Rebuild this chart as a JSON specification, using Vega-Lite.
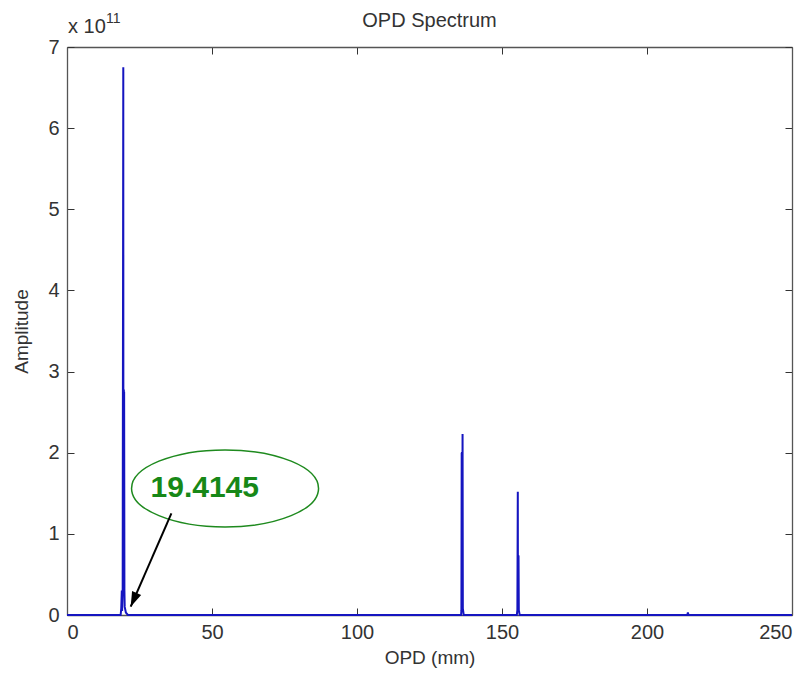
{
  "$schema": "https://vega.github.io/schema/vega-lite/v6.json",
  "width": 725,
  "height": 568,
  "autosize": "none",
  "padding": {"left": 67, "top": 47, "right": 18, "bottom": 64},
  "background": "white",
  "config": {
    "view": {"stroke": null},
    "font": "Liberation Sans",
    "axis": {
      "grid": false,
      "domainColor": "#555",
      "domainWidth": 1.3,
      "tickColor": "#333",
      "tickSize": -7,
      "tickWidth": 1,
      "labelFont": "Liberation Sans",
      "labelFontSize": 20,
      "labelColor": "#333",
      "titleFont": "Liberation Sans",
      "titleFontSize": 19,
      "titleFontWeight": "normal",
      "titleColor": "#333"
    }
  },
  "datasets": {
    "spectrum": [
      {"opd": 0, "amp": 0},
      {"opd": 18.5, "amp": 0},
      {"opd": 18.7, "amp": 0.08},
      {"opd": 18.9, "amp": 0.3},
      {"opd": 19.0, "amp": 0.05},
      {"opd": 19.2, "amp": 0.32},
      {"opd": 19.41, "amp": 6.75},
      {"opd": 19.45, "amp": 0.25},
      {"opd": 19.5, "amp": 2.76},
      {"opd": 19.55, "amp": 0.3},
      {"opd": 19.6, "amp": 2.78},
      {"opd": 19.65, "amp": 0.3},
      {"opd": 19.7, "amp": 2.75},
      {"opd": 19.8, "amp": 0.3},
      {"opd": 19.9, "amp": 0.1},
      {"opd": 20.3, "amp": 0.03},
      {"opd": 21, "amp": 0},
      {"opd": 135.9, "amp": 0},
      {"opd": 136.0, "amp": 0.06},
      {"opd": 136.1, "amp": 2.0},
      {"opd": 136.15, "amp": 0.1},
      {"opd": 136.2, "amp": 2.01},
      {"opd": 136.3, "amp": 0.1},
      {"opd": 136.4, "amp": 2.23},
      {"opd": 136.5, "amp": 0.08},
      {"opd": 136.8, "amp": 0},
      {"opd": 155.1, "amp": 0},
      {"opd": 155.3, "amp": 0.06},
      {"opd": 155.45, "amp": 1.52},
      {"opd": 155.5, "amp": 0.1},
      {"opd": 155.6, "amp": 0.74},
      {"opd": 155.65, "amp": 0.1},
      {"opd": 155.7, "amp": 0.73},
      {"opd": 155.8, "amp": 0.06},
      {"opd": 156.1, "amp": 0},
      {"opd": 213.9, "amp": 0},
      {"opd": 214.1, "amp": 0.03},
      {"opd": 214.3, "amp": 0},
      {"opd": 250, "amp": 0}
    ],
    "ellipse": [{"opd": 54.5, "amp": 1.56}],
    "label": [{"opd": 47.5, "amp": 1.56, "text": "19.4145"}],
    "arrow": [{"opd": 36.0, "amp": 1.253}, {"opd": 21.97, "amp": 0.102}],
    "arrowhead": [{"opd": 23.2, "amp": 0.204}],
    "exponent": [{"opd": 0, "amp": 7}],
    "charttitle": [{"opd": 125, "amp": 7, "text": "OPD Spectrum"}]
  },
  "layer": [
    {
      "data": {"name": "spectrum"},
      "mark": {"type": "line", "color": "#1515C0", "strokeWidth": 2},
      "encoding": {
        "x": {
          "field": "opd", "type": "quantitative",
          "scale": {"domain": [0, 250], "nice": false},
          "axis": {"orient": "bottom", "values": [0, 50, 100, 150, 200, 250], "title": "OPD (mm)", "labelPadding": 14, "titlePadding": 6}
        },
        "y": {
          "field": "amp", "type": "quantitative",
          "scale": {"domain": [0, 7], "nice": false},
          "axis": {"orient": "left", "values": [0, 1, 2, 3, 4, 5, 6, 7], "title": "Amplitude", "labelPadding": 15, "titlePadding": 16}
        }
      }
    },
    {
      "data": {"name": "spectrum"},
      "mark": {"type": "point", "opacity": 0},
      "encoding": {
        "x": {
          "field": "opd", "type": "quantitative",
          "scale": {"domain": [0, 250], "nice": false},
          "axis": {"orient": "top", "values": [0, 50, 100, 150, 200, 250], "labels": false, "title": null}
        },
        "y": {
          "field": "amp", "type": "quantitative",
          "scale": {"domain": [0, 7], "nice": false},
          "axis": {"orient": "right", "values": [0, 1, 2, 3, 4, 5, 6, 7], "labels": false, "title": null}
        }
      }
    },
    {
      "data": {"name": "ellipse"},
      "mark": {"type": "point", "shape": "M -1 0 A 1 0.412 0 1 0 1 0 A 1 0.412 0 1 0 -1 0 Z", "size": 34969, "filled": false, "stroke": "#1e8a1e", "strokeWidth": 1.5, "opacity": 1},
      "encoding": {
        "x": {"field": "opd", "type": "quantitative", "scale": {"domain": [0, 250], "nice": false}, "axis": null},
        "y": {"field": "amp", "type": "quantitative", "scale": {"domain": [0, 7], "nice": false}, "axis": null}
      }
    },
    {
      "data": {"name": "label"},
      "mark": {"type": "text", "font": "Liberation Sans", "fontSize": 30, "fontWeight": "bold", "color": "#178817", "align": "center", "baseline": "middle"},
      "encoding": {
        "x": {"field": "opd", "type": "quantitative", "scale": {"domain": [0, 250], "nice": false}, "axis": null},
        "y": {"field": "amp", "type": "quantitative", "scale": {"domain": [0, 7], "nice": false}, "axis": null},
        "text": {"field": "text"}
      }
    },
    {
      "data": {"name": "arrow"},
      "mark": {"type": "line", "color": "black", "strokeWidth": 2},
      "encoding": {
        "x": {"field": "opd", "type": "quantitative", "scale": {"domain": [0, 250], "nice": false}, "axis": null},
        "y": {"field": "amp", "type": "quantitative", "scale": {"domain": [0, 7], "nice": false}, "axis": null}
      }
    },
    {
      "data": {"name": "arrowhead"},
      "mark": {"type": "point", "shape": "M 0 -1 L -0.55 0.65 L 0.55 0.65 Z", "size": 324, "filled": true, "color": "black", "opacity": 1, "angle": 203.6},
      "encoding": {
        "x": {"field": "opd", "type": "quantitative", "scale": {"domain": [0, 250], "nice": false}, "axis": null},
        "y": {"field": "amp", "type": "quantitative", "scale": {"domain": [0, 7], "nice": false}, "axis": null}
      }
    },
    {
      "data": {"name": "exponent"},
      "mark": {"type": "text", "text": "x 10", "font": "Liberation Sans", "fontSize": 20, "color": "#333", "align": "left", "baseline": "alphabetic", "dx": 1, "dy": -14},
      "encoding": {
        "x": {"field": "opd", "type": "quantitative", "scale": {"domain": [0, 250], "nice": false}, "axis": null},
        "y": {"field": "amp", "type": "quantitative", "scale": {"domain": [0, 7], "nice": false}, "axis": null}
      }
    },
    {
      "data": {"name": "exponent"},
      "mark": {"type": "text", "text": "11", "font": "Liberation Sans", "fontSize": 14, "color": "#333", "align": "left", "baseline": "alphabetic", "dx": 39, "dy": -24},
      "encoding": {
        "x": {"field": "opd", "type": "quantitative", "scale": {"domain": [0, 250], "nice": false}, "axis": null},
        "y": {"field": "amp", "type": "quantitative", "scale": {"domain": [0, 7], "nice": false}, "axis": null}
      }
    },
    {
      "data": {"name": "charttitle"},
      "mark": {"type": "text", "font": "Liberation Sans", "fontSize": 20, "color": "#333", "align": "center", "baseline": "alphabetic", "dy": -20},
      "encoding": {
        "x": {"field": "opd", "type": "quantitative", "scale": {"domain": [0, 250], "nice": false}, "axis": null},
        "y": {"field": "amp", "type": "quantitative", "scale": {"domain": [0, 7], "nice": false}, "axis": null},
        "text": {"field": "text"}
      }
    }
  ],
  "resolve": {"axis": {"x": "independent", "y": "independent"}}
}
